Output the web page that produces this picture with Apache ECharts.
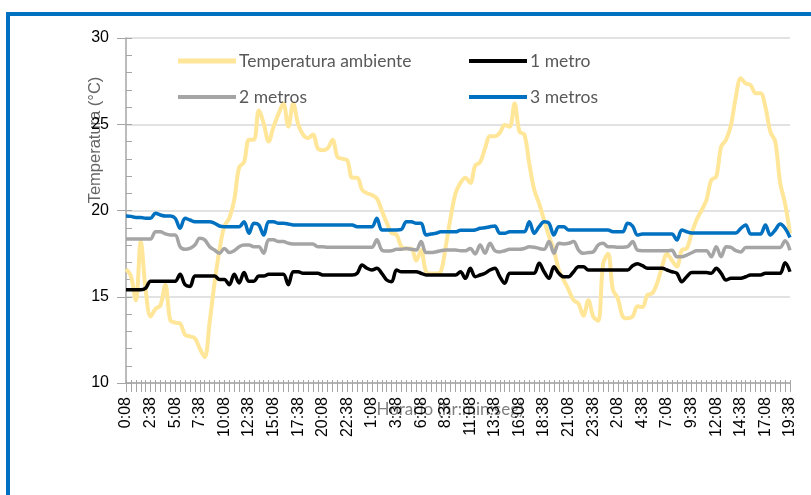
<!DOCTYPE html>
<html>
<head>
<meta charset="utf-8">
<script src="https://cdn.jsdelivr.net/npm/echarts@6/dist/echarts.min.js"></script>
<style>
html,body{margin:0;padding:0;background:#fff;}
#frame{position:absolute;left:6px;top:12px;width:900px;height:600px;border-left:4px solid #0070C0;border-top:4px solid #0070C0;}
#chart{position:absolute;left:0;top:0;width:811px;height:495px;}
</style>
</head>
<body>
<div id="frame"></div>
<div id="chart"></div>
<script>
// Categories: half-hourly readings from 0:08 (day 1) to 19:38 (day 3)
const categories = [];
for (let m = 8; m <= 8 + 135 * 30; m += 30) {
  const mm = m % 1440;
  categories.push(Math.floor(mm / 60) + ':' + String(mm % 60).padStart(2, '0'));
}
const seriesNames = ['Temperatura ambiente', '1 metro', '2 metros', '3 metros'];
const yTicks = [10, 15, 20, 25, 30];

const tempAmbiente = [16.6,16.2,14.8,18.2,15.4,13.85,14.3,14.5,15.7,13.65,
13.5,13.45,12.8,12.7,12.6,12.0,11.5,13.5,15.8,17.7,
19.1,19.55,20.6,22.5,22.8,24.1,24.1,25.8,25.05,24.0,
24.86,25.6,26.2,24.86,26.2,25.0,24.4,24.2,24.4,23.6,
23.5,23.6,24.1,23.1,23.0,22.9,21.9,21.9,21.2,21.0,
20.9,20.7,20.0,19.3,18.7,18.6,17.9,17.8,17.8,17.1,
17.7,16.45,16.35,16.35,16.45,17.9,19.6,21.0,21.6,21.9,
21.6,22.6,22.8,23.6,24.3,24.3,24.5,24.95,24.86,26.2,
24.57,24.4,22.7,21.2,20.4,19.45,18.5,17.7,16.55,15.97,
15.4,14.8,14.6,13.9,14.8,13.85,13.6,16.9,17.5,15.4,
14.9,13.85,13.75,13.85,14.45,14.4,15.1,15.2,15.8,16.75,
17.5,17.1,16.75,17.7,17.8,18.67,19.45,20.0,20.6,21.77,
21.96,23.7,24.1,24.96,26.6,27.66,27.37,27.27,26.8,26.8,
26.0,24.57,24.0,21.6,20.4,18.67];

const unMetro = [15.4,15.4,15.4,15.4,15.5,15.9,15.9,15.9,15.9,15.9,
15.9,16.3,15.7,15.6,16.2,16.2,16.2,16.2,16.2,16.0,
16.0,15.7,16.3,15.8,16.4,15.9,15.9,16.2,16.2,16.3,
16.3,16.3,16.3,15.7,16.45,16.45,16.36,16.36,16.36,16.36,
16.26,16.26,16.26,16.26,16.26,16.26,16.26,16.36,16.84,16.65,
16.55,16.65,16.36,15.97,15.87,16.55,16.45,16.45,16.45,16.45,
16.36,16.26,16.26,16.26,16.26,16.26,16.26,16.26,16.45,16.07,
16.65,16.16,16.26,16.36,16.55,16.65,16.16,15.78,16.36,16.36,
16.36,16.36,16.36,16.36,16.94,16.45,16.07,16.74,16.36,16.16,
16.16,16.45,16.74,16.74,16.55,16.55,16.55,16.55,16.55,16.55,
16.55,16.55,16.55,16.8,16.92,16.8,16.65,16.65,16.65,16.65,
16.55,16.45,16.36,15.87,16.16,16.4,16.4,16.4,16.4,16.36,
16.65,16.36,15.97,16.07,16.07,16.07,16.16,16.26,16.26,16.26,
16.36,16.36,16.36,16.36,16.97,16.45];

const dosMetros = [18.35,18.35,18.35,18.35,18.35,18.35,18.77,18.77,18.64,18.58,
18.58,17.9,17.75,17.8,18.0,18.39,18.3,17.9,17.71,17.52,
17.8,17.56,17.67,17.9,18.0,18.0,17.9,17.9,17.52,18.3,
18.3,18.2,18.2,18.1,18.06,18.06,18.06,18.06,18.06,17.9,
17.9,17.87,17.87,17.87,17.87,17.87,17.87,17.87,17.87,17.87,
17.87,18.3,17.71,17.65,17.67,17.75,17.75,17.8,17.75,17.71,
18.2,17.56,17.56,17.6,17.67,17.71,17.71,17.71,17.67,17.67,
17.8,17.48,18.0,17.52,18.1,17.67,17.6,17.67,17.75,17.75,
17.75,17.8,17.9,17.87,17.8,17.75,18.2,17.52,18.1,18.06,
18.1,18.2,17.71,17.52,17.56,17.6,18.0,18.1,17.9,17.9,
17.87,17.87,17.9,18.2,17.7,17.67,17.67,17.67,17.67,17.67,
17.67,17.7,17.32,17.32,17.42,17.55,17.67,17.67,17.67,17.32,
17.9,17.32,17.9,17.86,17.67,17.6,17.86,17.86,17.86,17.86,
17.86,17.86,17.86,17.86,18.25,17.7];

const tresMetros = [19.68,19.66,19.6,19.6,19.55,19.55,19.84,19.74,19.68,19.68,
19.55,18.97,19.55,19.45,19.35,19.35,19.35,19.35,19.26,19.1,
19.06,19.06,19.06,19.06,19.35,18.68,19.26,19.16,18.58,19.35,
19.35,19.26,19.26,19.22,19.16,19.16,19.16,19.16,19.16,19.16,
19.16,19.16,19.16,19.16,19.16,19.16,19.16,19.06,19.06,19.06,
19.06,19.55,18.87,18.87,18.87,18.87,18.9,19.35,19.35,19.26,
19.26,18.58,18.64,18.68,18.77,18.77,18.77,18.77,18.85,18.85,
18.85,18.87,18.97,19.0,19.06,19.1,18.68,18.68,18.77,18.77,
18.77,18.77,19.35,18.68,19.06,19.35,19.26,18.58,19.06,19.06,
18.87,18.87,18.87,18.87,18.87,18.87,18.87,18.87,18.87,18.77,
18.77,18.77,19.26,19.1,18.58,18.64,18.64,18.64,18.64,18.64,
18.64,18.64,18.29,18.87,18.77,18.7,18.7,18.7,18.7,18.7,
18.7,18.7,18.7,18.7,18.7,18.97,19.16,18.64,18.64,18.64,
19.16,18.58,18.87,19.22,18.97,18.44];

const colors = ['#FFE699', '#000000', '#A5A5A5', '#0070C0'];
const widths = [4, 3.5, 3.5, 3.5];
const dataSets = [tempAmbiente, unMetro, dosMetros, tresMetros];
const axisGray = '#A6A6A6';

const chart = echarts.init(document.getElementById('chart'), null, {renderer: 'canvas'});

const legendPos = [[178, 52], [469, 52], [178, 88], [469, 88]];
const legends = seriesNames.map((n, i) => ({
  data: [n],
  left: legendPos[i][0],
  top: legendPos[i][1],
  padding: 0,
  itemWidth: 58,
  itemHeight: i === 0 ? 5 : 4,
  itemGap: 0,
  icon: 'rect',
  selectedMode: false,
  textStyle: {fontFamily: 'Lato', fontSize: 17.5, color: '#595959', padding: [0, 0, 0, -2]}
}));

chart.setOption({
  animation: false,
  color: colors,
  grid: {left: 126, right: 21, top: 38, bottom: 112},
  legend: legends,
  xAxis: [{
    type: 'category',
    data: categories,
    boundaryGap: false,
    axisLine: {lineStyle: {color: axisGray, width: 1.5}},
    axisTick: {show: true, interval: 0, length: 9, lineStyle: {color: axisGray}},
    axisLabel: {interval: 4, rotate: 90, margin: 14, fontFamily: 'Liberation Sans', fontSize: 16, color: '#000'},
    splitLine: {show: false}
  }, {
    type: 'category',
    data: categories,
    boundaryGap: false,
    position: 'bottom',
    axisLine: {show: false},
    axisTick: {show: true, inside: true, interval: 0, length: 3, lineStyle: {color: axisGray}},
    axisLabel: {show: false},
    splitLine: {show: false}
  }],
  yAxis: [{
    type: 'value',
    min: yTicks[0],
    max: yTicks[yTicks.length - 1],
    interval: 5,
    axisLine: {show: true, lineStyle: {color: axisGray, width: 1.5}},
    axisTick: {show: true, length: 9, lineStyle: {color: axisGray}},
    axisLabel: {margin: 17, fontFamily: 'Liberation Sans', fontSize: 16, color: '#000'},
    splitLine: {show: true, lineStyle: {color: '#D9D9D9', width: 1.5}}
  }, {
    type: 'value',
    position: 'left',
    min: yTicks[0],
    max: yTicks[yTicks.length - 1],
    interval: 5,
    axisLine: {show: false},
    axisTick: {show: true, inside: true, length: 6, lineStyle: {color: axisGray}},
    minorTick: {show: true, splitNumber: 5, length: 6, lineStyle: {color: axisGray}},
    axisLabel: {show: false},
    splitLine: {show: false}
  }],
  graphic: [{
    type: 'text',
    x: 95, y: 140,
    rotation: Math.PI / 2,
    style: {text: 'Temperatura (°C)', font: '16.5px "Liberation Sans"', fill: '#666666', align: 'center', verticalAlign: 'middle'}
  }, {
    type: 'text',
    x: 450, y: 410,
    style: {text: 'Horario (hr:min:seg)', font: '17px Lato', fill: '#808080', align: 'center', verticalAlign: 'middle'}
  }],
  series: seriesNames.map((n, i) => ({
    name: n,
    type: 'line',
    data: dataSets[i],
    smooth: 0.35,
    showSymbol: false,
    symbol: 'none',
    lineStyle: {color: colors[i], width: widths[i]},
    itemStyle: {color: colors[i]},
    z: 2 + i
  }))
});
</script>
</body>
</html>
